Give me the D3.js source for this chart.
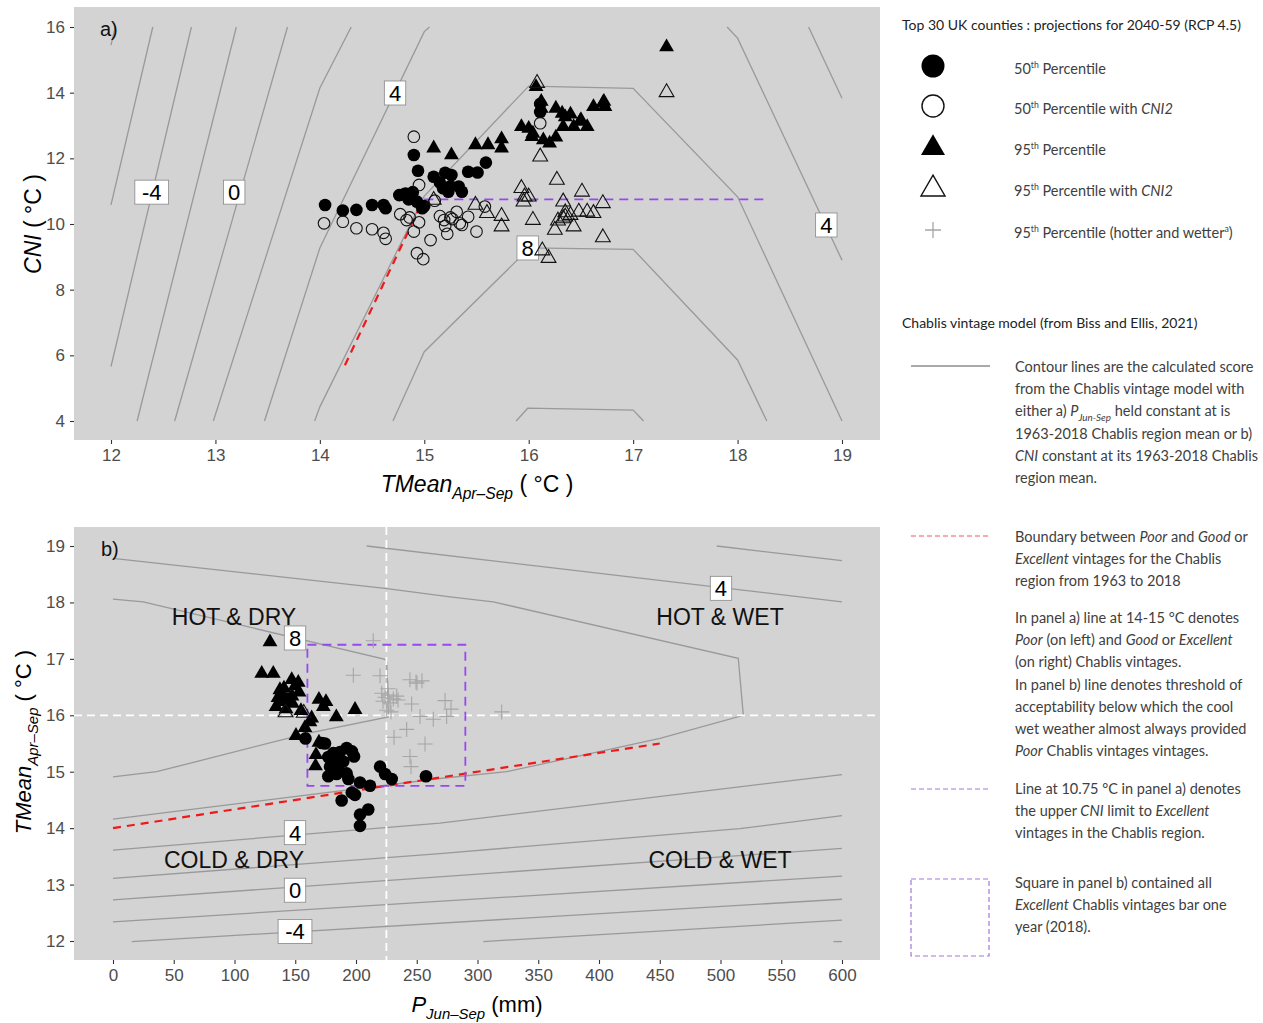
<!DOCTYPE html>
<html>
<head>
<meta charset="utf-8">
<script src="https://cdn.jsdelivr.net/npm/d3@7"></script>
<style>
    body { margin: 0; background: #fff; }
    svg { display: block; font-family: "Liberation Sans", Arial, sans-serif; }
    .leg { font-family: Lato, "Open Sans", sans-serif; }
</style>
</head>
<body>
<div id="graph"></div>
<script>
"use strict";

// ---- panel a) contours: TMean (x) vs CNI (y) ----
const contourLinesA = [
    [[12.0, 15.45], [12.04, 16.0]],
    [[12.0, 10.58], [12.40, 16.0]],
    [[12.0, 5.66], [12.77, 16.0]],
    [[12.25, 4.0], [13.20, 16.0]],
    [[12.61, 4.0], [13.69, 16.0]],
    [[12.98, 4.0], [14.0, 14.14], [14.30, 16.0]],
    [[13.47, 4.0], [14.0, 9.27], [15.0, 15.86], [15.05, 16.0]],
    [[13.95, 4.0], [14.0, 4.43], [15.0, 10.85], [16.0, 14.2], [17.0, 14.13], [18.0, 10.83], [19.0, 4.0]],
    [[14.70, 4.0], [15.0, 6.11], [15.89, 8.90], [16.0, 9.27], [17.0, 9.23], [18.0, 5.86], [18.28, 4.0]],
    [[15.88, 4.0], [15.99, 4.39], [17.0, 4.33], [17.10, 4.0]],
    [[17.90, 16.0], [18.0, 15.66], [19.0, 8.9]],
    [[18.68, 16.0], [19.0, 13.83]]
];
const contourLabelsA = [
    ["-4", 12.39, 10.97], ["0", 13.18, 10.97], ["4", 14.72, 13.99], ["8", 15.99, 9.27], ["4", 18.85, 9.97]
];
const poorLineA = [[14.24, 5.70], [14.97, 10.6]];
const cniLimitA = [[15.0, 10.75], [18.26, 10.75]];

const p50A = [
    [14.05, 10.58], [14.22, 10.41], [14.35, 10.43], [14.50, 10.58], [14.61, 10.58], [14.63, 10.48],
    [14.76, 10.88], [14.82, 10.93], [14.89, 10.97], [14.90, 12.10], [14.94, 11.62], [15.09, 11.44],
    [15.15, 11.26], [15.20, 11.56], [15.26, 11.49], [15.18, 11.09], [15.23, 10.98], [15.33, 11.14],
    [15.36, 10.98], [14.98, 10.48], [14.93, 10.68], [15.42, 11.59], [15.51, 11.57], [15.59, 11.87],
    [16.11, 13.66], [16.11, 13.41], [14.85, 10.75], [15.00, 10.55], [14.80, 10.90], [15.25, 11.15]
];
const p50cniA = [
    [14.90, 12.66], [14.95, 11.19], [14.04, 10.02], [14.22, 10.07], [14.35, 9.87], [14.50, 9.84],
    [14.61, 9.73], [14.63, 9.55], [14.77, 10.30], [14.83, 10.12], [14.86, 10.20], [14.90, 9.77],
    [15.06, 9.51], [14.93, 9.11], [14.99, 8.93], [15.15, 10.24], [15.19, 10.12], [15.20, 9.94],
    [15.22, 9.70], [15.27, 10.15], [15.31, 10.37], [15.34, 10.02], [15.36, 9.97], [15.42, 10.22],
    [15.50, 9.77], [15.10, 10.71], [16.11, 13.07], [15.58, 10.53], [14.95, 10.05], [15.25, 10.20]
];
const p95A = [
    [15.09, 12.31], [15.26, 12.10], [15.49, 12.41], [15.61, 12.41], [15.74, 12.59], [15.74, 12.31],
    [16.07, 14.18], [16.12, 13.73], [16.12, 13.52], [16.26, 13.52], [16.32, 13.37], [16.40, 13.34],
    [16.50, 13.17], [16.56, 12.96], [15.93, 12.96], [16.00, 12.91], [16.04, 12.76], [16.14, 12.56],
    [16.20, 12.46], [16.26, 12.64], [16.33, 12.96], [16.43, 12.96], [16.62, 13.57], [16.71, 13.68],
    [16.73, 13.57], [17.32, 15.39], [16.72, 13.73], [16.49, 13.12], [16.03, 12.66], [16.35, 13.26]
];
const p95cniA = [
    [16.08, 14.29], [16.11, 12.05], [16.27, 11.34], [15.93, 11.09], [16.00, 10.83], [15.95, 10.68],
    [16.51, 10.98], [16.33, 10.68], [16.71, 10.63], [15.49, 10.58], [15.60, 10.33], [15.74, 10.24],
    [15.74, 9.92], [16.04, 10.12], [16.33, 10.17], [16.40, 10.27], [16.48, 10.37], [16.56, 10.37],
    [16.62, 10.33], [16.25, 9.82], [16.43, 9.92], [16.71, 9.59], [16.13, 9.19], [16.19, 8.96],
    [17.32, 14.01], [15.09, 10.73], [15.96, 10.83], [16.35, 10.22], [16.35, 10.35], [16.28, 10.10]
];

// ---- panel b) contours: P Jun-Sep (x) vs TMean (y) ----
const contourLinesB = [
    [[0, 18.78], [223.9, 18.25], [277.4, 18.10], [313, 18.01], [514.6, 17.01], [518.8, 16.0],
        [450.2, 15.59], [324, 15.0], [269.1, 14.88], [0, 14.16]],
    [[0, 18.06], [24.9, 18.01], [223.9, 16.99], [225.3, 16.95], [226.6, 15.97], [160, 15.68],
        [36, 15.0], [0, 14.91]],
    [[208.8, 19.0], [600, 18.01]],
    [[496.9, 19.0], [600, 18.74]],
    [[0, 13.61], [269.1, 14.09], [600, 14.95]],
    [[0, 13.11], [269.1, 13.55], [516, 13.99], [600, 14.22]],
    [[0, 12.73], [600, 13.64]],
    [[0, 12.34], [600, 13.15]],
    [[15.4, 11.99], [600, 12.74]],
    [[304.8, 11.99], [600, 12.37]],
    [[593, 11.99], [600, 11.99]]
];
const contourLabelsB = [
    ["8", 149.8, 17.37], ["4", 500.4, 18.25], ["4", 149.8, 13.92], ["0", 149.8, 12.90], ["-4", 149.8, 12.17]
];
const regionLabelsB = [
    ["HOT & DRY", 99.6, 17.74], ["HOT & WET", 499.6, 17.74],
    ["COLD & DRY", 99.6, 13.43], ["COLD & WET", 499.6, 13.43]
];
const poorLineB = [[0, 14.0], [450, 15.5]];
const excellentBoxB = [160, 290, 14.75, 17.25];
const meanP = 225;
const meanT = 16;

const p50B = [
    [158.4, 15.59], [171.8, 15.51], [174.5, 15.50], [177.2, 15.26], [181.3, 15.33], [186.8, 15.35],
    [192.3, 15.42], [196.7, 15.36], [198.4, 15.27], [178.6, 15.09], [185.4, 15.11], [189.5, 15.18],
    [177.2, 14.92], [184.1, 14.96], [192.3, 14.97], [193.7, 14.87], [203.3, 14.81], [211.5, 14.75],
    [219.8, 15.09], [223.9, 14.96], [229.4, 14.87], [257.6, 14.92], [196.5, 14.63], [199.2, 14.59],
    [188.2, 14.49], [203.3, 14.24], [210.1, 14.33], [203.3, 14.04], [183.5, 15.21], [181.9, 15.03]
];
const p95B = [
    [129.2, 17.30], [122.4, 16.74], [131.9, 16.74], [147.1, 16.63], [152.5, 16.58], [137.4, 16.45],
    [140.2, 16.34], [147.3, 16.34], [153.1, 16.41], [134.2, 16.15], [142.4, 16.11], [147.7, 16.21],
    [154.7, 16.08], [163.5, 15.95], [169.5, 16.28], [173.1, 16.15], [183.8, 15.97], [199.2, 16.10],
    [158.0, 15.78], [150.6, 15.64], [169.5, 15.52], [167.1, 15.30], [166.7, 15.10], [144.0, 16.27],
    [135.8, 16.31], [140.7, 16.48], [149.8, 16.52], [138.3, 16.24], [175.3, 16.24], [162.1, 15.88]
];
const p95cniB = [[142.0, 16.05], [157.0, 16.04]];
const p95hotWetB = [
    [214.2, 17.32], [197.8, 16.71], [219.8, 16.70], [244.4, 16.63], [250.2, 16.57], [254.3, 16.61],
    [221.2, 16.39], [226.6, 16.36], [230.7, 16.29], [233.5, 16.34], [222.2, 16.25], [228.0, 16.22],
    [225.3, 16.09], [228.8, 16.06], [245.8, 16.20], [252.7, 15.98], [263.6, 15.93], [274.6, 15.98],
    [273.3, 16.26], [278.2, 16.11], [241.7, 15.75], [231.3, 15.61], [256.8, 15.49], [244.4, 15.27],
    [245.3, 15.09], [319.9, 16.06], [234.6, 16.27], [223.9, 16.32], [249.4, 16.59], [226.3, 16.47]
];

// ---- ticks ----
const ticksTA = [12, 13, 14, 15, 16, 17, 18, 19];
const ticksCNI = [4, 6, 8, 10, 12, 14, 16];
const ticksP = [0, 50, 100, 150, 200, 250, 300, 350, 400, 450, 500, 550, 600];
const ticksTB = [12, 13, 14, 15, 16, 17, 18, 19];

// ---- legend text ----
const legendTitle = "Top 30 UK counties : projections for 2040-59 (RCP 4.5)";
const legendItems = [
    ["fc", 66, ["50", ["th", "sup"], " Percentile"]],
    ["oc", 106, ["50", ["th", "sup"], " Percentile with ", ["CNI2", "i"]]],
    ["ft", 147, ["95", ["th", "sup"], " Percentile"]],
    ["ot", 188, ["95", ["th", "sup"], " Percentile with ", ["CNI2", "i"]]],
    ["cr", 230, ["95", ["th", "sup"], " Percentile (hotter and wetter", ["a", "sup"], ")"]]
];
const modelTitle = "Chablis vintage model (from Biss and Ellis, 2021)";
const noteBlocks = [
    ["solid", 367, [
        ["Contour lines are the calculated score"],
        ["from the Chablis vintage model with"],
        ["either a) ", ["P", "i"], ["Jun-Sep", "isub"], " held constant at is"],
        ["1963-2018 Chablis region mean or b)"],
        [["CNI", "i"], " constant at its 1963-2018 Chablis"],
        ["region mean."]]],
    ["red", 537, [
        ["Boundary between ", ["Poor", "i"], " and ", ["Good", "i"], " or"],
        [["Excellent", "i"], " vintages for the Chablis"],
        ["region from 1963 to 2018"]]],
    ["none", 618, [
        ["In panel a) line at 14-15 °C denotes"],
        [["Poor", "i"], " (on left) and ", ["Good", "i"], " or ", ["Excellent", "i"]],
        ["(on right) Chablis vintages."],
        ["In panel b) line denotes threshold of"],
        ["acceptability below which the cool"],
        ["wet weather almost always provided"],
        [["Poor", "i"], " Chablis vintages vintages."]]],
    ["purple", 789, [
        ["Line at 10.75 °C in panel a) denotes"],
        ["the upper ", ["CNI", "i"], " limit to ", ["Excellent", "i"]],
        ["vintages in the Chablis region."]]],
    ["square", 883, [
        ["Square in panel b) contained all"],
        [["Excellent", "i"], " Chablis vintages bar one"],
        ["year (2018)."]]]
];

(function() {
    const width = 1263;
    const height = 1023;
    const panelA = { x0: 74, x1: 880, y0: 7, y1: 440 };
    const panelB = { x0: 74, x1: 880, y0: 527, y1: 960 };

    const contourColor = "#999999";
    const redColor = "#f01818";
    const purpleColor = "#9848f0";

    let svg;

    window.addEventListener("load", init);

    function init() {
        svg = d3.select("#graph")
            .append("svg")
                .attr("width", width)
                .attr("height", height);

        let defs = svg.append("defs");
        defs.append("clipPath").attr("id", "clipA")
            .append("rect")
                .attr("x", panelA.x0).attr("y", panelA.y0)
                .attr("width", panelA.x1 - panelA.x0).attr("height", panelA.y1 - panelA.y0);
        defs.append("clipPath").attr("id", "clipB")
            .append("rect")
                .attr("x", panelB.x0).attr("y", panelB.y0)
                .attr("width", panelB.x1 - panelB.x0).attr("height", panelB.y1 - panelB.y0);

        drawPanelA();
        drawPanelB();
        drawLegend();
    }

    function drawPanelA() {
        let xScale = d3.scaleLinear().domain([12, 19]).range([111, 842]);
        let yScale = d3.scaleLinear().domain([4, 16]).range([421, 27]);
        let line = d3.line().x((d) => xScale(d[0])).y((d) => yScale(d[1]));

        svg.append("rect")
            .attr("x", panelA.x0).attr("y", panelA.y0)
            .attr("width", panelA.x1 - panelA.x0).attr("height", panelA.y1 - panelA.y0)
            .attr("fill", "#d3d3d3");

        let g = svg.append("g").attr("clip-path", "url(#clipA)");

        g.selectAll("path.contour")
            .data(contourLinesA)
            .enter()
            .append("path")
                .attr("class", "contour")
                .attr("d", line)
                .attr("fill", "none")
                .attr("stroke", contourColor)
                .attr("stroke-width", 1.3);

        g.append("path")
            .attr("d", line(poorLineA))
            .attr("fill", "none")
            .attr("stroke", redColor)
            .attr("stroke-width", 2.2)
            .attr("stroke-dasharray", "8,6");

        g.append("path")
            .attr("d", line(cniLimitA))
            .attr("fill", "none")
            .attr("stroke", purpleColor)
            .attr("stroke-width", 1.8)
            .attr("stroke-dasharray", "9,6");

        contourLabels(g, contourLabelsA, xScale, yScale);

        dots(g, p50A, xScale, yScale, "#000", "none");
        dots(g, p50cniA, xScale, yScale, "none", "#111");
        triangles(g, p95A, xScale, yScale, "#000", "none", 95);
        triangles(g, p95cniA, xScale, yScale, "none", "#111", 95);

        svg.append("text")
            .attr("x", 100).attr("y", 36)
            .style("font-size", "20px")
            .attr("fill", "#111")
            .text("a)");

        drawAxes(xScale, yScale, ticksTA, ticksCNI, panelA);

        // axis titles
        rich(svg.append("g").attr("transform", "translate(477,492)"), 0, 0,
            [["TMean", "i"], ["Apr\u2013Sep", "isub"], " ( \u00b0C )"], 23, "middle");
        rich(svg.append("g").attr("transform", "translate(41,224) rotate(-90)"), 0, 0,
            [["CNI", "i"], " ( \u00b0C )"], 23, "middle");
    }

    function drawPanelB() {
        let xScale = d3.scaleLinear().domain([0, 600]).range([113, 842]);
        let yScale = d3.scaleLinear().domain([12, 19]).range([941, 546]);
        let line = d3.line().x((d) => xScale(d[0])).y((d) => yScale(d[1]));

        svg.append("rect")
            .attr("x", panelB.x0).attr("y", panelB.y0)
            .attr("width", panelB.x1 - panelB.x0).attr("height", panelB.y1 - panelB.y0)
            .attr("fill", "#d3d3d3");

        let g = svg.append("g").attr("clip-path", "url(#clipB)");

        g.selectAll("path.contour")
            .data(contourLinesB)
            .enter()
            .append("path")
                .attr("class", "contour")
                .attr("d", line)
                .attr("fill", "none")
                .attr("stroke", contourColor)
                .attr("stroke-width", 1.3);

        // mean lines
        g.append("line")
            .attr("x1", xScale(meanP)).attr("x2", xScale(meanP))
            .attr("y1", panelB.y0).attr("y2", panelB.y1)
            .attr("stroke", "#fff").attr("stroke-width", 1.8)
            .attr("stroke-dasharray", "8,5");
        g.append("line")
            .attr("x1", panelB.x0).attr("x2", panelB.x1)
            .attr("y1", yScale(meanT)).attr("y2", yScale(meanT))
            .attr("stroke", "#fff").attr("stroke-width", 1.8)
            .attr("stroke-dasharray", "8,5");

        g.append("path")
            .attr("d", line(poorLineB))
            .attr("fill", "none")
            .attr("stroke", redColor)
            .attr("stroke-width", 2.2)
            .attr("stroke-dasharray", "8,6");

        g.append("rect")
            .attr("x", xScale(excellentBoxB[0]))
            .attr("y", yScale(excellentBoxB[3]))
            .attr("width", xScale(excellentBoxB[1]) - xScale(excellentBoxB[0]))
            .attr("height", yScale(excellentBoxB[2]) - yScale(excellentBoxB[3]))
            .attr("fill", "none")
            .attr("stroke", purpleColor)
            .attr("stroke-width", 1.8)
            .attr("stroke-dasharray", "9,6");

        contourLabels(g, contourLabelsB, xScale, yScale);

        g.selectAll("text.region")
            .data(regionLabelsB)
            .enter()
            .append("text")
                .attr("class", "region")
                .attr("x", (d) => xScale(d[1]))
                .attr("y", (d) => yScale(d[2]) + 8)
                .attr("text-anchor", "middle")
                .style("font-size", "23px")
                .attr("fill", "#111")
                .text((d) => d[0]);

        g.selectAll("path.cross")
            .data(p95hotWetB)
            .enter()
            .append("path")
                .attr("class", "cross")
                .attr("transform", (d) => "translate(" + xScale(d[0]) + "," + yScale(d[1]) + ")")
                .attr("d", "M-7.5,0H7.5M0,-7.5V7.5")
                .attr("stroke", "#a6a6a6")
                .attr("stroke-width", 1.1);

        triangles(g, p95B, xScale, yScale, "#000", "none", 95);
        triangles(g, p95cniB, xScale, yScale, "none", "#111", 95);
        dots(g, p50B, xScale, yScale, "#000", "none");

        svg.append("text")
            .attr("x", 101).attr("y", 556)
            .style("font-size", "20px")
            .attr("fill", "#111")
            .text("b)");

        drawAxes(xScale, yScale, ticksP, ticksTB, panelB);

        rich(svg.append("g").attr("transform", "translate(477,1012)"), 0, 0,
            [["P", "i"], ["Jun\u2013Sep", "isub"], " (mm)"], 22, "middle");
        rich(svg.append("g").attr("transform", "translate(31,742) rotate(-90)"), 0, 0,
            [["TMean", "i"], ["Apr\u2013Sep", "isub"], " ( \u00b0C )"], 22, "middle");
    }

    function drawAxes(xScale, yScale, xt, yt, panel) {
        let fmt = d3.format("d");
        let ax = svg.append("g")
            .attr("transform", "translate(0," + panel.y1 + ")")
            .call(d3.axisBottom(xScale).tickValues(xt).tickFormat(fmt).tickSize(4).tickPadding(5));
        let ay = svg.append("g")
            .attr("transform", "translate(" + panel.x0 + ",0)")
            .call(d3.axisLeft(yScale).tickValues(yt).tickFormat(fmt).tickSize(4).tickPadding(5));
        [ax, ay].forEach((a) => {
            a.select(".domain").remove();
            a.selectAll(".tick line").attr("stroke", "#333").attr("stroke-width", 1.1);
            a.selectAll(".tick text")
                .attr("fill", "#4d4d4d")
                .style("font-size", "17px")
                .style("font-family", "'Liberation Sans', Arial, sans-serif");
        });
    }

    function contourLabels(g, labels, xScale, yScale) {
        let lg = g.selectAll("g.clabel")
            .data(labels)
            .enter()
            .append("g")
                .attr("class", "clabel")
                .attr("transform", (d) => "translate(" + xScale(d[1]) + "," + yScale(d[2]) + ")");
        lg.append("rect")
            .attr("x", (d) => -(d[0].length * 6.2 + 4.5))
            .attr("y", -12)
            .attr("width", (d) => d[0].length * 12.4 + 9)
            .attr("height", 24)
            .attr("fill", "#fff")
            .attr("stroke", "#888")
            .attr("stroke-width", 0.8);
        lg.append("text")
            .attr("text-anchor", "middle")
            .attr("y", 8)
            .style("font-size", "22px")
            .attr("fill", "#000")
            .text((d) => d[0]);
    }

    function dots(g, data, xScale, yScale, fill, stroke) {
        g.append("g").selectAll("circle")
            .data(data)
            .enter()
            .append("circle")
                .attr("cx", (d) => xScale(d[0]))
                .attr("cy", (d) => yScale(d[1]))
                .attr("r", stroke === "none" ? 6.3 : 5.8)
                .attr("fill", fill)
                .attr("stroke", stroke)
                .attr("stroke-width", 1.1);
    }

    function triangles(g, data, xScale, yScale, fill, stroke, size) {
        let sym = d3.symbol().type(d3.symbolTriangle).size(size);
        g.append("g").selectAll("path")
            .data(data)
            .enter()
            .append("path")
                .attr("transform", (d) => "translate(" + xScale(d[0]) + "," + yScale(d[1]) + ")")
                .attr("d", sym)
                .attr("fill", fill)
                .attr("stroke", stroke)
                .attr("stroke-width", 1.1);
    }

    function drawLegend() {
        let lg = svg.append("g").attr("class", "leg");
        lg.append("text")
            .attr("x", 902).attr("y", 30)
            .style("font-size", "14px")
            .attr("fill", "#222")
            .text(legendTitle);

        legendItems.forEach((item) => {
            let [sym, y, parts] = item;
            let cx = 933;
            if (sym === "fc" || sym === "oc") {
                lg.append("circle")
                    .attr("cx", cx).attr("cy", y).attr("r", sym === "fc" ? 11.5 : 11)
                    .attr("fill", sym === "fc" ? "#000" : "none")
                    .attr("stroke", sym === "fc" ? "none" : "#111")
                    .attr("stroke-width", 1.4);
            } else if (sym === "ft" || sym === "ot") {
                lg.append("path")
                    .attr("transform", "translate(" + cx + "," + (y + 1) + ")")
                    .attr("d", d3.symbol().type(d3.symbolTriangle).size(250))
                    .attr("fill", sym === "ft" ? "#000" : "none")
                    .attr("stroke", sym === "ft" ? "none" : "#111")
                    .attr("stroke-width", 1.4);
            } else {
                lg.append("path")
                    .attr("transform", "translate(" + cx + "," + y + ")")
                    .attr("d", "M-8,0H8M0,-8V8")
                    .attr("stroke", "#a6a6a6")
                    .attr("stroke-width", 1.3);
            }
            rich(lg, 1014, y + 8, parts, 14.5).attr("fill", "#404040");
        });

        lg.append("text")
            .attr("x", 902).attr("y", 328)
            .style("font-size", "14px")
            .attr("fill", "#222")
            .text(modelTitle);

        noteBlocks.forEach((block) => {
            let [key, y, lines] = block;
            if (key === "solid") {
                lg.append("line")
                    .attr("x1", 911).attr("x2", 990).attr("y1", y - 1).attr("y2", y - 1)
                    .attr("stroke", "#555").attr("stroke-width", 1);
            } else if (key === "red") {
                lg.append("line")
                    .attr("x1", 911).attr("x2", 990).attr("y1", y - 1).attr("y2", y - 1)
                    .attr("stroke", "#e85a5a").attr("stroke-width", 1.2)
                    .attr("stroke-dasharray", "5,3");
            } else if (key === "purple") {
                lg.append("line")
                    .attr("x1", 911).attr("x2", 990).attr("y1", y).attr("y2", y)
                    .attr("stroke", "#a07ad8").attr("stroke-width", 1.2)
                    .attr("stroke-dasharray", "5,3");
            } else if (key === "square") {
                lg.append("rect")
                    .attr("x", 911).attr("y", y - 4).attr("width", 78).attr("height", 77)
                    .attr("fill", "none")
                    .attr("stroke", "#a07ad8").attr("stroke-width", 1.2)
                    .attr("stroke-dasharray", "5,3");
            }
            lines.forEach((parts, i) => {
                rich(lg, 1015, y + 5 + i * 22.2, parts, 14.5).attr("fill", "#404040");
            });
        });
    }

    /* --- HELPER FUNCTIONS --- */

    /**
     * Appends a text made of plain, italic, sub- and superscript pieces.
     */
    function rich(g, x, y, parts, size, anchor) {
        let t = g.append("text")
            .attr("x", x).attr("y", y)
            .style("font-size", size + "px");
        if (anchor) {
            t.attr("text-anchor", anchor);
        }
        let off = 0;
        parts.forEach((p) => {
            let s = typeof p === "string" ? p : p[0];
            let k = typeof p === "string" ? "" : p[1];
            let target = 0;
            let fs = size;
            if (k.indexOf("sub") >= 0) { target = size * 0.3; fs = size * 0.68; }
            if (k.indexOf("sup") >= 0) { target = -size * 0.4; fs = size * 0.6; }
            let ts = t.append("tspan")
                .attr("dy", target - off)
                .style("font-size", fs + "px")
                .text(s);
            if (k.indexOf("i") >= 0) {
                ts.style("font-style", "italic");
            }
            off = target;
        });
        return t;
    }
})();
</script>
</body>
</html>
